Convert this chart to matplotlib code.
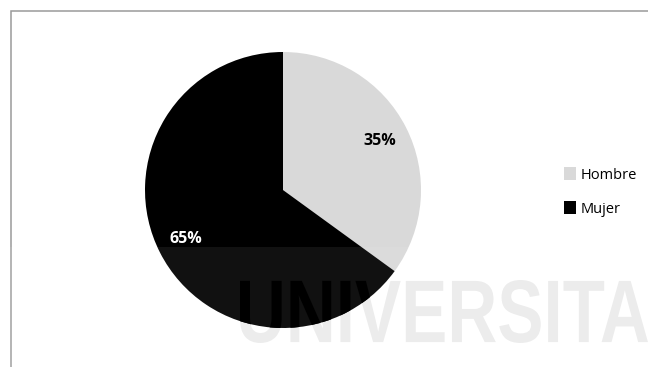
import matplotlib

matplotlib.use("Agg")
import matplotlib.pyplot as plt
from matplotlib.font_manager import FontProperties
from matplotlib.patches import Patch, PathPatch, Rectangle
from matplotlib.textpath import TextPath
from matplotlib.transforms import Affine2D

# ---------------------------------------------------------------------------
# Data
# ---------------------------------------------------------------------------
categories = ["Hombre", "Mujer"]
shares = [35, 65]
colors = ["#d9d9d9", "#000000"]
label_colors = ["#000000", "#ffffff"]

W, H = 648, 367

plt.rcParams.update({"font.family": ["Open Sans", "DejaVu Sans"]})

fig = plt.figure(figsize=(W / 100, H / 100), dpi=100)
ax = fig.add_axes([0, 0, 1, 1])

# chart frame
ax.add_patch(
    Rectangle((10.5, -20), W + 40, H - 10.5 + 20, fill=False,
              edgecolor="#9a9a9a", lw=1.1, zorder=0)
)

wedges, texts, autotexts = ax.pie(
    shares,
    colors=colors,
    startangle=90,
    counterclock=False,
    center=(283, H - 190),
    radius=138,
    autopct="%.0f%%",
    pctdistance=0.79,
    wedgeprops={"linewidth": 0},
    textprops={"fontsize": 11.5, "fontweight": "bold"},
    frame=True,
)
ax.set_xlim(0, W)
ax.set_ylim(0, H)
ax.set_aspect("equal")
ax.axis("off")
for t, c in zip(autotexts, label_colors):
    t.set_color(c)
    t.set_zorder(10)

# faint watermark band and condensed lettering across the lower part
band_top = H - 247
ax.add_patch(Rectangle((0, 0), W, band_top, facecolor="white", alpha=0.07,
                       lw=0, zorder=3))

wm_path = TextPath((0, 0), "UNIVERSITA",
                   prop=FontProperties(family="Liberation Sans", weight="bold"),
                   size=100)
ext = wm_path.get_extents()
to_px = (Affine2D().translate(-ext.x0, -ext.y0)
         .scale(408 / ext.width, 63 / ext.height)
         .translate(240, H - 343))
wm_path = to_px.transform_path(wm_path)
ax.add_patch(PathPatch(wm_path, facecolor="black", edgecolor="none",
                       alpha=0.075, zorder=4))
dark = PathPatch(wm_path, facecolor="black", edgecolor="none", zorder=5)
ax.add_patch(dark)
dark.set_clip_path(wedges[1])

handles = [Patch(facecolor=c, edgecolor="none", label=n)
           for n, c in zip(categories, colors)]
ax.legend(
    handles=handles,
    loc="center left",
    bbox_to_anchor=(557 / W, 1 - 192 / H),
    frameon=False,
    fontsize=10.5,
    handlelength=0.8,
    handleheight=0.95,
    handletextpad=0.35,
    labelspacing=1.3,
    borderpad=0,
)

fig.savefig("out.png", dpi=100)
